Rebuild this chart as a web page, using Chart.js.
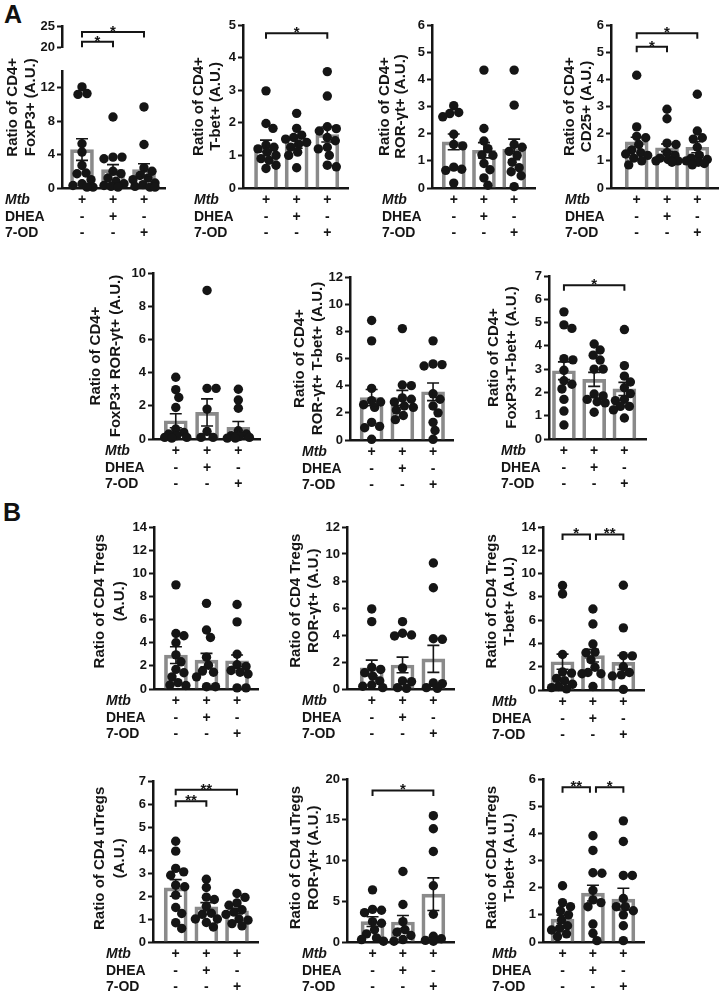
<!DOCTYPE html>
<html>
<head>
<meta charset="utf-8">
<script src="https://cdn.jsdelivr.net/npm/chart.js@4.4.1/dist/chart.umd.min.js"></script>
<style>
  body { margin: 0; background: #fff; width: 720px; height: 992px; position: relative; overflow: hidden;
         font-family: "Liberation Sans", Arial, sans-serif; }
  canvas { position: absolute; }
  .tag { position: absolute; font-weight: bold; font-size: 25px; color: #111; line-height: normal; }
</style>
</head>
<body>
<div class="tag" style="left:4px;top:0px">A</div>
<div class="tag" style="left:3px;top:498px">B</div>
<script>
// treatment table under every panel
const rowNames = ['Mtb', 'DHEA', '7-OD'];
const mtbRow = ['+', '+', '+'];
const dheaRow = ['-', '+', '-'];
const odRow = ['-', '-', '+'];

// A: CD4+ FoxP3+
const foxp3Mean = [4.6, 2.2, 2.2];
const foxp3Sem = [1.3, 0.6, 0.7];
const foxp3Dots = [
  [12.1, 11.3, 11.2, 5.3, 4.3, 2.7, 1.8, 1.7, 1.0, 0.5, 0.3, 0.1, 0.1],
  [8.5, 3.7, 3.7, 3.5, 2.0, 1.7, 1.2, 0.8, 0.5, 0.3, 0.2, 0.1],
  [9.7, 5.2, 2.4, 2.0, 1.5, 1.2, 1.0, 0.6, 0.4, 0.2, 0.1, 0.1]
];
const foxp3Sig = [[0, 1, 21.3, '*'], [0, 2, 23.6, '*']];

// A: CD4+ T-bet+
const tbetMean = [1.29, 1.38, 1.64];
const tbetSem = [0.18, 0.16, 0.23];
const tbetDots = [
  [2.98, 1.98, 1.83, 1.32, 1.25, 1.2, 1.1, 1.0, 0.9, 0.85, 0.7, 0.6],
  [2.29, 1.83, 1.62, 1.55, 1.5, 1.4, 1.35, 1.25, 1.1, 1.0, 0.62],
  [3.57, 2.82, 1.88, 1.82, 1.75, 1.55, 1.45, 1.25, 1.2, 1.0, 0.7, 0.65]
];
const tbetSig = [[0, 2, 4.75, '*']];

// A: CD4+ ROR-gt+
const rorMean = [1.7, 1.39, 1.42];
const rorSem = [0.29, 0.28, 0.38];
const rorDots = [
  [3.03, 2.78, 2.74, 2.62, 1.98, 1.6, 1.55, 0.77, 0.69, 0.65, 0.18],
  [4.34, 2.19, 1.73, 1.45, 1.22, 1.2, 0.9, 0.67, 0.37, 0.1],
  [4.34, 3.05, 1.6, 1.5, 1.35, 1.2, 0.95, 0.75, 0.6, 0.45, 0.05]
];

// A: CD4+ CD25+
const cd25Mean = [1.7, 1.48, 1.5];
const cd25Sem = [0.17, 0.14, 0.2];
const cd25Dots = [
  [4.15, 2.25, 1.9, 1.85, 1.6, 1.4, 1.3, 1.25, 1.2, 1.1, 1.0, 0.85],
  [2.9, 2.55, 1.65, 1.6, 1.3, 1.2, 1.1, 1.05, 1.0, 1.0, 0.95],
  [3.45, 2.1, 1.85, 1.8, 1.5, 1.2, 1.1, 1.05, 1.0, 0.95, 0.9, 0.85]
];
const cd25Sig = [[0, 1, 5.2, '*'], [0, 2, 5.7, '*']];

// A: CD4+ FoxP3+ ROR-gt+
const foxRorMean = [1.1, 1.6, 0.7];
const foxRorSem = [0.42, 0.82, 0.35];
const foxRorDots = [
  [3.72, 2.97, 2.5, 1.9, 0.6, 0.4, 0.3, 0.2, 0.1, 0.1, 0.05],
  [8.95, 3.05, 3.05, 1.8, 0.45, 0.1, 0.1],
  [3.0, 2.35, 1.85, 0.5, 0.3, 0.2, 0.15, 0.1, 0.05, 0.05]
];

// A: CD4+ ROR-gt+ T-bet+
const rorTbetMean = [3.12, 3.1, 3.55];
const rorTbetSem = [0.6, 0.55, 0.65];
const rorTbetDots = [
  [8.8, 7.3, 3.8, 2.9, 2.8, 2.6, 2.4, 1.3, 1.0, 0.9, 0.05],
  [8.2, 4.05, 4.0, 3.1, 3.0, 2.8, 2.5, 2.4, 2.2, 1.8, 1.5],
  [7.3, 5.6, 5.55, 5.45, 3.4, 3.0, 2.5, 2.0, 1.3, 0.7, 0.05]
];

// A: CD4+ FoxP3+ T-bet+
const foxTbetMean = [2.93, 2.56, 2.15];
const foxTbetSem = [0.38, 0.3, 0.28];
const foxTbetDots = [
  [5.46, 4.9, 4.75, 3.45, 3.4, 2.95, 2.5, 2.35, 2.15, 1.7, 1.2, 0.6],
  [4.08, 3.82, 3.6, 3.39, 3.0, 3.0, 1.93, 1.85, 1.7, 1.6, 1.55, 1.15],
  [4.7, 3.15, 2.7, 2.45, 2.2, 1.95, 1.7, 1.65, 1.4, 1.4, 1.25, 0.9]
];
const foxTbetSig = [[0, 2, 6.6, '*']];

// B: CD4 Tregs
const tregMean = [2.93, 2.5, 2.44];
const tregSem = [0.72, 0.58, 0.5];
const tregDots = [
  [9.0, 4.8, 4.6, 4.0, 2.95, 2.35, 1.7, 1.4, 1.05, 0.55, 0.35, 0.3],
  [7.4, 5.1, 4.45, 2.75, 2.05, 1.55, 1.45, 1.05, 0.2, 0.2],
  [7.3, 5.8, 3.0, 2.1, 1.95, 1.6, 1.45, 1.3, 0.1, 0.1]
];

// B: CD4 Tregs ROR-gt+
const tregRorMean = [1.56, 1.78, 2.23];
const tregRorSem = [0.58, 0.58, 1.0];
const tregRorDots = [
  [5.93, 4.99, 1.6, 1.45, 1.2, 0.95, 0.6, 0.3, 0.2, 0.1],
  [4.99, 4.13, 4.0, 3.93, 1.56, 0.6, 0.55, 0.1, 0.05],
  [9.33, 7.5, 3.72, 3.68, 0.45, 0.4, 0.1, 0.05]
];

// B: CD4 Tregs T-bet+
const tregTbetMean = [2.43, 2.95, 2.37];
const tregTbetSem = [0.65, 0.55, 0.6];
const tregTbetDots = [
  [8.97, 8.25, 3.05, 1.55, 1.45, 1.0, 0.8, 0.5, 0.3, 0.2, 0.1],
  [6.96, 5.67, 3.95, 3.25, 3.2, 2.6, 1.95, 1.5, 1.4, 1.4, 0.3],
  [9.0, 5.34, 2.95, 2.93, 2.0, 1.5, 1.3, 1.2, 0.05]
];
const tregTbetSig = [[0, 1, 13.36, '*'], [1, 2, 13.36, '**']];

// B: CD4 uTregs
const utregMean = [2.35, 1.53, 1.35];
const utregSem = [0.36, 0.18, 0.12];
const utregDots = [
  [4.38, 3.95, 3.2, 3.05, 2.9, 2.47, 2.4, 2.04, 1.5, 1.24, 0.84, 0.59],
  [2.73, 2.37, 1.95, 1.85, 1.55, 1.25, 1.2, 1.0, 1.0, 0.85, 0.65],
  [2.11, 1.94, 1.7, 1.6, 1.4, 1.3, 1.2, 1.0, 0.95, 0.8, 0.7]
];
const utregSig = [[0, 1, 6.12, '**'], [0, 2, 6.62, '**']];

// B: CD4 uTregs ROR-gt+
const utregRorMean = [2.5, 2.45, 5.87];
const utregRorSem = [0.6, 0.8, 2.0];
const utregRorDots = [
  [6.4, 4.0, 3.9, 3.6, 2.5, 2.3, 1.5, 1.0, 0.5, 0.3, 0.1],
  [8.65, 4.6, 2.5, 1.5, 1.2, 0.8, 0.3, 0.1],
  [15.5, 13.9, 11.1, 6.9, 3.4, 0.7, 0.4, 0.2, 0.1]
];
const utregRorSig = [[0, 2, 18.6, '*']];

// B: CD4 uTregs T-bet+
const utregTbetMean = [0.84, 1.8, 1.58];
const utregTbetSem = [0.15, 0.29, 0.4];
const utregTbetDots = [
  [2.07, 1.45, 1.3, 1.15, 1.0, 0.81, 0.6, 0.5, 0.44, 0.3, 0.2],
  [3.91, 3.37, 2.55, 2.53, 1.9, 1.55, 1.45, 1.3, 0.66, 0.32, 0.05],
  [4.46, 3.7, 2.45, 2.45, 1.6, 1.3, 1.3, 1.15, 1.0, 0.6, 0.05]
];
const utregTbetSig = [[0, 1, 5.7, '**'], [1, 2, 5.7, '*']];

const FONT = '"Liberation Sans", Arial, sans-serif';
const INK = '#151515';

// compact beeswarm: dots may overlap, but stay within about the bar width
function swarm(vals, pxY, pxX) {
  const placed = [];
  const out = new Array(vals.length).fill(0);
  const order = vals.map((v, i) => i).sort((a, b) => vals[b] - vals[a]);
  for (const i of order) {
    let best = 0, bestCost = Infinity;
    for (let k = 0; k <= 22; k++) {
      const off = (k % 2 ? 1 : -1) * Math.ceil(k / 2);
      let cost = 0.02 * Math.abs(off);
      placed.forEach(p => {
        const d = Math.hypot(p.ox - off, (p.v - vals[i]) * pxY);
        if (d < 8.4) cost += (8.4 - d) * (8.4 - d);
      });
      if (cost < bestCost - 1e-9) { bestCost = cost; best = off; }
    }
    placed.push({ ox: best, v: vals[i] });
    out[i] = best / pxX;
  }
  return out;
}

function decor(cfg, canvasTop) {
  return {
    id: 'decor',
    afterDatasetsDraw(chart) {
      const ctx = chart.ctx, x = chart.scales.x, y = chart.scales.y;
      ctx.save();
      ctx.strokeStyle = INK;
      ctx.lineWidth = 1.6;
      (cfg.mean || []).forEach((m, i) => {
        const cx = x.getPixelForValue(i);
        const hi = y.getPixelForValue(m + cfg.sem[i]);
        const lo = y.getPixelForValue(Math.max(0, m - cfg.sem[i]));
        ctx.beginPath();
        ctx.moveTo(cx, lo); ctx.lineTo(cx, hi);
        ctx.moveTo(cx - 6, hi); ctx.lineTo(cx + 6, hi);
        ctx.moveTo(cx - 6, lo); ctx.lineTo(cx + 6, lo);
        ctx.stroke();
      });
      const sig = cfg.sig || [];
      ctx.lineWidth = 2;
      ctx.fillStyle = INK;
      ctx.font = 'bold 15px ' + FONT;
      ctx.textAlign = 'center';
      ctx.textBaseline = 'alphabetic';
      sig.forEach(([a, b, v, s]) => {
        let xa = x.getPixelForValue(a), xb = x.getPixelForValue(b);
        if (sig.some(o => o[2] === v && o[1] === a)) xa += 3;
        if (sig.some(o => o[2] === v && o[0] === b)) xb -= 3;
        const yy = y.getPixelForValue(v);
        ctx.beginPath();
        ctx.moveTo(xa, yy + 5.5); ctx.lineTo(xa, yy); ctx.lineTo(xb, yy); ctx.lineTo(xb, yy + 5.5);
        ctx.stroke();
        ctx.fillText(s, (xa + xb) / 2, yy + 4);
      });
      ctx.restore();
    },
    afterDraw(chart) {
      const ctx = chart.ctx, x = chart.scales.x, area = chart.chartArea;
      ctx.save();
      ctx.fillStyle = INK;
      if (cfg.title) {
        ctx.font = 'bold 15px ' + FONT;
        ctx.textAlign = 'center';
        ctx.textBaseline = 'middle';
        const cy = cfg.titleMid != null ? cfg.titleMid - canvasTop : (area.top + area.bottom) / 2;
        cfg.title.forEach((line, k) => {
          ctx.save();
          ctx.translate(area.left + cfg.titleDx[k], cy);
          ctx.rotate(-Math.PI / 2);
          ctx.fillText(line, 0, 0);
          ctx.restore();
        });
      }
      if (cfg.table !== false) {
        ctx.textBaseline = 'middle';
        [mtbRow, dheaRow, odRow].forEach((row, r) => {
          const ty = area.bottom + 12.5 + r * 16.5;
          ctx.textAlign = 'left';
          ctx.font = (r === 0 ? 'italic ' : '') + 'bold 14px ' + FONT;
          ctx.fillText(rowNames[r], area.left + cfg.rowDx, ty);
          ctx.textAlign = 'center';
          ctx.font = 'bold 14px ' + FONT;
          row.forEach((s, i) => ctx.fillText(s, x.getPixelForValue(i), ty));
        });
      }
      ctx.restore();
    }
  };
}

function makePanel(cfg) {
  const leftW = 72, padTop = 18, padRight = 12;
  const bottomH = cfg.table === false ? 3 : 62;
  const plotW = cfg.axisEnd - cfg.axisX, plotH = cfg.zero - cfg.top;
  const W = Math.round(leftW + plotW + padRight), H = Math.round(padTop + plotH + bottomH);
  const cv = document.createElement('canvas');
  cv.width = W; cv.height = H;
  cv.style.width = W + 'px'; cv.style.height = H + 'px';
  const canvasTop = cfg.top - padTop;
  cv.style.left = (cfg.axisX - leftW) + 'px';
  cv.style.top = canvasTop + 'px';
  document.body.appendChild(cv);

  const yMin = cfg.min || 0;
  const xMin = -(cfg.c0 - cfg.axisX) / cfg.gap;
  const xMax = 2 + (cfg.axisEnd - cfg.c0 - 2 * cfg.gap) / cfg.gap;
  const pxY = plotH / (cfg.max - yMin);
  const datasets = [];
  if (cfg.mean) {
    const pts = [];
    cfg.dots.forEach((vals, i) => {
      const offs = swarm(vals, pxY, cfg.gap);
      vals.forEach((v, k) => pts.push({ x: i + offs[k], y: v }));
    });
    datasets.push({
      type: 'scatter', data: pts, order: 0, clip: false, showLine: false,
      pointRadius: 4.7, pointBackgroundColor: INK, pointBorderWidth: 0
    });
    datasets.push({
      type: 'bar', data: cfg.mean.map((m, i) => ({ x: i, y: m })), order: 1,
      barThickness: 23, backgroundColor: 'rgba(255,255,255,0)',
      borderColor: '#8a8a8a', borderWidth: 3, borderSkipped: 'bottom'
    });
  }

  new Chart(cv, {
    type: 'bar',
    data: { datasets },
    options: {
      responsive: false,
      animation: false,
      events: [],
      layout: { padding: { top: padTop, right: padRight, left: 0, bottom: 0 } },
      plugins: { legend: { display: false }, tooltip: { enabled: false } },
      scales: {
        x: {
          type: 'linear', min: xMin, max: xMax, offset: false,
          ticks: { display: false },
          grid: { display: false, offset: false },
          border: { display: cfg.table !== false, color: INK, width: 2.5 },
          afterFit(s) { s.height = bottomH; }
        },
        y: {
          min: yMin, max: cfg.max,
          ticks: { stepSize: cfg.step, color: INK, padding: 2, font: { family: FONT, size: 13, weight: 'bold' } },
          grid: { drawOnChartArea: false, tickLength: 5, tickWidth: 2, tickColor: INK },
          border: { color: INK, width: 2.5 },
          afterFit(s) { s.width = leftW; }
        }
      }
    },
    plugins: [decor(cfg, canvasTop)]
  });
}

// ---- panel A, first row ----
makePanel({ axisX: 62, axisEnd: 165, c0: 82, gap: 31, top: 26, zero: 54, min: 20, max: 25, step: 5,
  table: false, sig: foxp3Sig });
makePanel({ axisX: 62, axisEnd: 165, c0: 82, gap: 31, top: 70.7, zero: 187.7, max: 14, step: 2,
  mean: foxp3Mean, sem: foxp3Sem, dots: foxp3Dots,
  title: ['Ratio of CD4+', 'FoxP3+ (A.U.)'], titleDx: [-49.5, -31], titleMid: 107, rowDx: -57 });
makePanel({ axisX: 243, axisEnd: 348, c0: 266, gap: 30.65, top: 25, zero: 187.7, max: 5, step: 1,
  mean: tbetMean, sem: tbetSem, dots: tbetDots, sig: tbetSig,
  title: ['Ratio of CD4+', 'T-bet+ (A.U.)'], titleDx: [-44, -27], rowDx: -49 });
makePanel({ axisX: 431.7, axisEnd: 535, c0: 453.5, gap: 30.3, top: 25, zero: 187.7, max: 6, step: 1,
  mean: rorMean, sem: rorSem, dots: rorDots,
  title: ['Ratio of CD4+', 'ROR-γt+ (A.U.)'], titleDx: [-47, -31.5], rowDx: -50 });
makePanel({ axisX: 611, axisEnd: 718, c0: 636.7, gap: 30.3, top: 25, zero: 187.7, max: 6, step: 1,
  mean: cd25Mean, sem: cd25Sem, dots: cd25Dots, sig: cd25Sig,
  title: ['Ratio of CD4+', 'CD25+ (A.U.)'], titleDx: [-41, -24], rowDx: -46 });

// ---- panel A, second row ----
makePanel({ axisX: 153.3, axisEnd: 260, c0: 176, gap: 31.2, top: 273.3, zero: 439.3, max: 10, step: 2,
  mean: foxRorMean, sem: foxRorSem, dots: foxRorDots,
  title: ['Ratio of CD4+', 'FoxP3+ ROR-γt+ (A.U.)'], titleDx: [-57, -37], rowDx: -48 });
makePanel({ axisX: 350, axisEnd: 453.3, c0: 371.7, gap: 30.8, top: 276.5, zero: 439, max: 12, step: 2,
  mean: rorTbetMean, sem: rorTbetSem, dots: rorTbetDots,
  title: ['Ratio of CD4+', 'ROR-γt+ T-bet+ (A.U.)'], titleDx: [-50, -32], rowDx: -48 });
makePanel({ axisX: 549.3, axisEnd: 646.7, c0: 564.3, gap: 30.35, top: 276, zero: 439, max: 7, step: 1,
  mean: foxTbetMean, sem: foxTbetSem, dots: foxTbetDots, sig: foxTbetSig,
  title: ['Ratio of CD4+', 'FoxP3+T-bet+ (A.U.)'], titleDx: [-55, -37.5], rowDx: -48 });

// ---- panel B, Tregs ----
makePanel({ axisX: 154, axisEnd: 258.3, c0: 176, gap: 30.65, top: 526.7, zero: 689, max: 14, step: 2,
  mean: tregMean, sem: tregSem, dots: tregDots,
  title: ['Ratio of CD4 Tregs', '(A.U.)'], titleDx: [-54, -34], titleMid: 601, rowDx: -48 });
makePanel({ axisX: 346.7, axisEnd: 454, c0: 371.5, gap: 30.9, top: 527.3, zero: 689, max: 12, step: 2,
  mean: tregRorMean, sem: tregRorSem, dots: tregRorDots,
  title: ['Ratio of CD4 Tregs', 'ROR-γt+ (A.U.)'], titleDx: [-51, -33], titleMid: 601, rowDx: -45 });
makePanel({ axisX: 542.7, axisEnd: 644, c0: 562.3, gap: 30.5, top: 526.7, zero: 689.3, max: 14, step: 2,
  mean: tregTbetMean, sem: tregTbetSem, dots: tregTbetDots, sig: tregTbetSig,
  title: ['Ratio of CD4 Tregs', 'T-bet+ (A.U.)'], titleDx: [-51, -33], titleMid: 601, rowDx: -51 });

// ---- panel B, uTregs ----
makePanel({ axisX: 153.3, axisEnd: 258.3, c0: 176, gap: 30.65, top: 780.7, zero: 942, max: 7, step: 1,
  mean: utregMean, sem: utregSem, dots: utregDots, sig: utregSig,
  title: ['Ratio of CD4 uTregs', '(A.U.)'], titleDx: [-53, -33], titleMid: 858, rowDx: -47 });
makePanel({ axisX: 346.7, axisEnd: 454, c0: 372.3, gap: 30.5, top: 779.3, zero: 942, max: 20, step: 5,
  mean: utregRorMean, sem: utregRorSem, dots: utregRorDots, sig: utregRorSig,
  title: ['Ratio of CD4 uTregs', 'ROR-γt+ (A.U.)'], titleDx: [-51, -33.5], titleMid: 858, rowDx: -45 });
makePanel({ axisX: 542.7, axisEnd: 644, c0: 562.3, gap: 30.5, top: 779.3, zero: 942, max: 6, step: 1,
  mean: utregTbetMean, sem: utregTbetSem, dots: utregTbetDots, sig: utregTbetSig,
  title: ['Ratio of CD4 uTregs', 'T-bet+ (A.U.)'], titleDx: [-51, -33], titleMid: 858, rowDx: -51 });
</script>
</body>
</html>
